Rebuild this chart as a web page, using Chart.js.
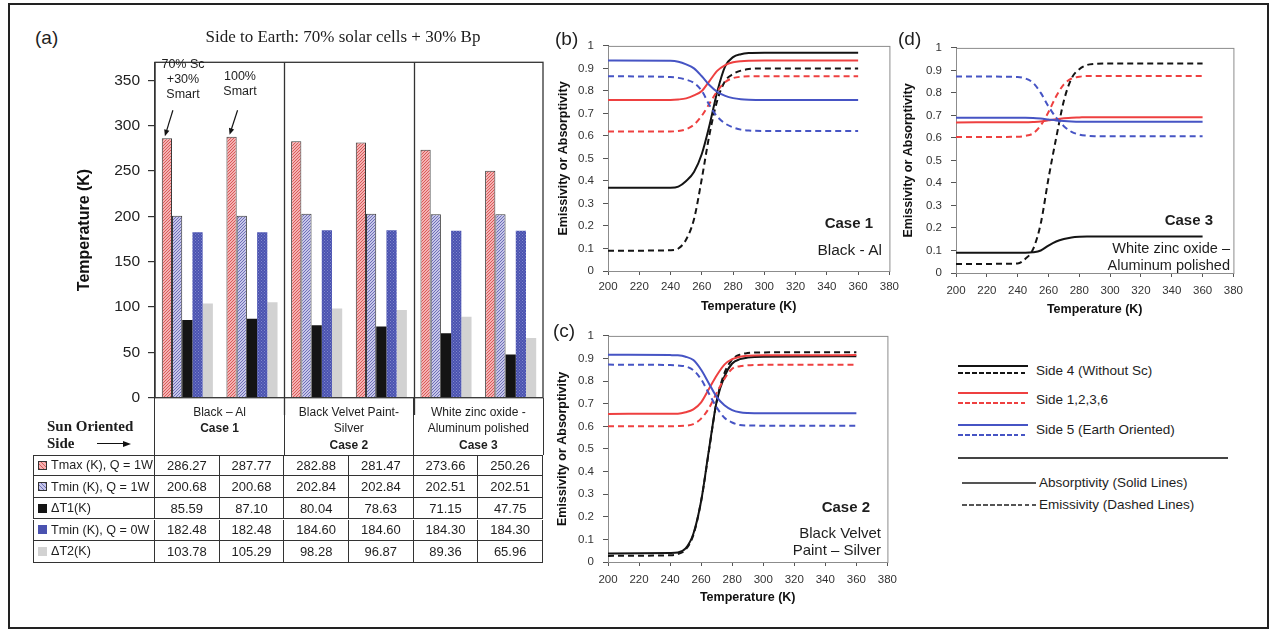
<!DOCTYPE html>
<html>
<head>
<meta charset="utf-8">
<title>Side temperatures and emissivity / absorptivity</title>
<script src="https://cdn.jsdelivr.net/npm/chart.js@4.4.1/dist/chart.umd.min.js"></script>
<style>
  html, body { margin: 0; padding: 0; background: #fff; }
  #fig { position: relative; width: 1270px; height: 630px; overflow: hidden;
         font-family: "Liberation Sans", Arial, sans-serif; color: #1e1e1e; }
  #fig canvas { position: absolute; }
  .frame { position: absolute; left: 8px; top: 3px; width: 1261px; height: 626px;
           border: 2px solid #222; box-sizing: border-box; }
  .t { position: absolute; white-space: nowrap; line-height: 1; }
  .serif { font-family: "Liberation Serif", "DejaVu Serif", serif; }
  .cell { position: absolute; box-sizing: border-box; border: 0 solid #333;
          display: flex; align-items: center; justify-content: center; font-size: 13px; }
  .head { flex-direction: column; justify-content: flex-start; padding-top: 6px;
          font-size: 12px; line-height: 16.5px; text-align: center; }
  .rowlab { justify-content: flex-start; padding-left: 4px; font-size: 12.6px; }
  .sw { display: inline-block; width: 9px; height: 9px; margin-right: 4px; box-sizing: border-box; }
  .lg-line { position: absolute; height: 0; }
</style>
</head>
<body>
<div id="fig">
  <div class="frame"></div>
  <canvas id="chartA" width="490" height="370" style="left:60px;top:45px"></canvas>
  <canvas id="chartB" width="364" height="290" style="left:540px;top:30px"></canvas>
  <canvas id="chartC" width="364" height="290" style="left:540px;top:320px"></canvas>
  <canvas id="chartD" width="362" height="290" style="left:888px;top:32px"></canvas>
</div>
<script>
// ── Panel (a): side temperatures (K) for each sun-oriented coating ──
const CONFIGS   = ['Case 1 / 70% Sc +30% Smart', 'Case 1 / 100% Smart',
                   'Case 2 / 70% Sc +30% Smart', 'Case 2 / 100% Smart',
                   'Case 3 / 70% Sc +30% Smart', 'Case 3 / 100% Smart'];
const TMAX_1W   = [286.27, 287.77, 282.88, 281.47, 273.66, 250.26];
const TMIN_1W   = [200.68, 200.68, 202.84, 202.84, 202.51, 202.51];
const DT1       = [85.59, 87.10, 80.04, 78.63, 71.15, 47.75];
const TMIN_0W   = [182.48, 182.48, 184.60, 184.60, 184.30, 184.30];
const DT2       = [103.78, 105.29, 98.28, 96.87, 89.36, 65.96];
const BAR_NAMES = ['Tmax (K), Q = 1W', 'Tmin (K), Q = 1W', 'ΔT1(K)', 'Tmin (K), Q = 0W', 'ΔT2(K)'];
const CASE_NAMES = [['Black – Al'], ['Black Velvet Paint-', 'Silver'], ['White zinc oxide -', 'Aluminum polished']];
const CASE_TAGS  = ['Case 1', 'Case 2', 'Case 3'];
const TEMP_TICKS_A = [0, 50, 100, 150, 200, 250, 300, 350];

// ── Panels (b)-(d): emissivity (dashed) / absorptivity (solid) vs temperature ──
const TEMPS = [200, 240, 245, 250, 255, 260, 265, 270, 275, 280, 285, 290, 300, 360];
const T_TICKS = [200, 220, 240, 260, 280, 300, 320, 340, 360, 380];
const E_TICKS = [0, 0.1, 0.2, 0.3, 0.4, 0.5, 0.6, 0.7, 0.8, 0.9, 1];

// Case 1: Black - Al
const B_ABS_S4   = [0.37, 0.37, 0.375, 0.40, 0.44, 0.52, 0.65, 0.80, 0.91, 0.95, 0.963, 0.968, 0.97, 0.97];
const B_EMI_S4   = [0.09, 0.092, 0.10, 0.14, 0.23, 0.41, 0.61, 0.76, 0.845, 0.875, 0.89, 0.897, 0.90, 0.90];
const B_ABS_S126 = [0.76, 0.76, 0.762, 0.767, 0.78, 0.80, 0.845, 0.89, 0.915, 0.927, 0.932, 0.934, 0.935, 0.935];
const B_EMI_S126 = [0.62, 0.62, 0.622, 0.63, 0.65, 0.69, 0.745, 0.80, 0.84, 0.857, 0.863, 0.865, 0.865, 0.865];
const B_ABS_S5   = [0.935, 0.934, 0.93, 0.918, 0.90, 0.865, 0.825, 0.795, 0.778, 0.768, 0.763, 0.761, 0.76, 0.76];
const B_EMI_S5   = [0.865, 0.862, 0.858, 0.85, 0.835, 0.80, 0.735, 0.685, 0.655, 0.638, 0.628, 0.624, 0.622, 0.622];

// Case 2: Black Velvet Paint - Silver
const C_ABS_S4   = [0.038, 0.04, 0.042, 0.06, 0.125, 0.27, 0.495, 0.71, 0.82, 0.878, 0.897, 0.904, 0.908, 0.91];
const C_EMI_S4   = [0.027, 0.03, 0.035, 0.055, 0.12, 0.27, 0.49, 0.71, 0.835, 0.895, 0.917, 0.924, 0.927, 0.928];
const C_ABS_S126 = [0.655, 0.656, 0.656, 0.662, 0.675, 0.706, 0.765, 0.825, 0.873, 0.897, 0.908, 0.912, 0.914, 0.915];
const C_EMI_S126 = [0.60, 0.60, 0.601, 0.603, 0.61, 0.634, 0.68, 0.748, 0.81, 0.855, 0.866, 0.87, 0.872, 0.872];
const C_ABS_S5   = [0.917, 0.915, 0.914, 0.908, 0.893, 0.85, 0.79, 0.73, 0.693, 0.672, 0.662, 0.659, 0.658, 0.658];
const C_EMI_S5   = [0.873, 0.871, 0.869, 0.865, 0.848, 0.808, 0.745, 0.684, 0.638, 0.617, 0.606, 0.604, 0.603, 0.603];

// Case 3: White zinc oxide - Aluminum polished
const D_ABS_S4   = [0.09, 0.09, 0.09, 0.092, 0.10, 0.122, 0.14, 0.151, 0.158, 0.161, 0.162, 0.162, 0.162, 0.162];
const D_EMI_S4   = [0.04, 0.042, 0.063, 0.106, 0.22, 0.42, 0.60, 0.765, 0.865, 0.905, 0.924, 0.929, 0.931, 0.931];
const D_ABS_S126 = [0.669, 0.67, 0.67, 0.671, 0.673, 0.678, 0.683, 0.687, 0.69, 0.691, 0.692, 0.692, 0.692, 0.692];
const D_EMI_S126 = [0.604, 0.605, 0.609, 0.62, 0.656, 0.715, 0.785, 0.838, 0.864, 0.872, 0.875, 0.875, 0.875, 0.875];
const D_ABS_S5   = [0.69, 0.69, 0.69, 0.689, 0.686, 0.682, 0.678, 0.675, 0.673, 0.672, 0.672, 0.672, 0.672, 0.672];
const D_EMI_S5   = [0.873, 0.871, 0.864, 0.845, 0.80, 0.74, 0.69, 0.652, 0.627, 0.615, 0.61, 0.608, 0.607, 0.607];

const SIDE_NAMES = ['Side 4 (Without Sc)', 'Side 1,2,3,6', 'Side 5 (Earth Oriented)'];

const COLORS = {
  black: '#141414',
  red:   '#ee4040',
  blue:  '#4654c4',
  pinkBg: '#f4b2b2', pinkLine: '#d95a5a',
  lavBg:  '#c6c6e8', lavLine:  '#6e6eb8',
  blueBg: '#4a52b0', blueDot:  '#8088cc',
  grey:  '#d2d2d2',
  axis:  '#333'
};
const SIDE_COLORS = [COLORS.black, COLORS.red, COLORS.blue];
const DASH = [6, 4];

const fig = document.getElementById('fig');

function addText(html, css, cls) {
  const d = document.createElement('div');
  d.className = 't' + (cls ? ' ' + cls : '');
  d.innerHTML = html;
  Object.assign(d.style, css);
  fig.appendChild(d);
  return d;
}

// hatched / dotted fills for the bars
function makeHatch(bg, fg, size) {
  const c = document.createElement('canvas');
  c.width = c.height = size;
  const g = c.getContext('2d');
  g.fillStyle = bg; g.fillRect(0, 0, size, size);
  g.strokeStyle = fg; g.lineWidth = 1;
  g.beginPath();
  g.moveTo(0, size); g.lineTo(size, 0);
  g.moveTo(-1, 1); g.lineTo(1, -1);
  g.moveTo(size - 1, size + 1); g.lineTo(size + 1, size - 1);
  g.stroke();
  return g.createPattern(c, 'repeat');
}
function makeDots(bg, fg) {
  const c = document.createElement('canvas');
  c.width = c.height = 3;
  const g = c.getContext('2d');
  g.fillStyle = bg; g.fillRect(0, 0, 3, 3);
  g.fillStyle = fg; g.fillRect(0, 0, 1, 1); g.fillRect(1.5, 1.5, 1, 1);
  return g.createPattern(c, 'repeat');
}

// ── Panel (a) ──
const caseFrame = {
  id: 'caseFrame',
  afterDatasetsDraw(chart) {
    const { ctx, chartArea: a, scales: { x } } = chart;
    ctx.save();
    ctx.strokeStyle = COLORS.axis;
    ctx.lineWidth = 1.3;
    ctx.strokeRect(a.left, a.top, a.right - a.left, a.bottom - a.top);
    for (let i = 2; i < CONFIGS.length; i += 2) {
      const px = Math.round((x.getPixelForValue(i - 1) + x.getPixelForValue(i)) / 2) + 0.5;
      ctx.beginPath(); ctx.moveTo(px, a.top); ctx.lineTo(px, chart.height); ctx.stroke();
    }
    // arrows from the two configuration notes to the first Tmax bars
    const meta = chart.getDatasetMeta(0);
    ctx.fillStyle = COLORS.black;
    ctx.strokeStyle = COLORS.black;
    ctx.lineWidth = 1.2;
    [0, 1].forEach(i => {
      const bar = meta.data[i];
      const tx = bar.x - 2, ty = bar.y - 2;
      const sx = bar.x + 6, sy = a.top + 48;
      const ang = Math.atan2(ty - sy, tx - sx);
      ctx.beginPath(); ctx.moveTo(sx, sy); ctx.lineTo(tx - 4 * Math.cos(ang), ty - 4 * Math.sin(ang)); ctx.stroke();
      ctx.beginPath();
      ctx.moveTo(tx, ty);
      ctx.lineTo(tx - 7 * Math.cos(ang - 0.4), ty - 7 * Math.sin(ang - 0.4));
      ctx.lineTo(tx - 7 * Math.cos(ang + 0.4), ty - 7 * Math.sin(ang + 0.4));
      ctx.closePath(); ctx.fill();
    });
    ctx.restore();
  }
};

const pinkHatch = makeHatch(COLORS.pinkBg, COLORS.pinkLine, 3);
const lavHatch  = makeHatch(COLORS.lavBg, COLORS.lavLine, 3);
const blueDots  = makeDots(COLORS.blueBg, COLORS.blueDot);

const barChart = new Chart(document.getElementById('chartA'), {
  type: 'bar',
  data: {
    labels: CONFIGS,
    datasets: [
      { label: BAR_NAMES[0], data: TMAX_1W, backgroundColor: pinkHatch, borderColor: '#3a3a3a', borderWidth: 1 },
      { label: BAR_NAMES[1], data: TMIN_1W, backgroundColor: lavHatch, borderColor: '#3a3a3a', borderWidth: 1 },
      { label: BAR_NAMES[2], data: DT1, backgroundColor: COLORS.black, borderWidth: 0 },
      { label: BAR_NAMES[3], data: TMIN_0W, backgroundColor: blueDots, borderWidth: 0 },
      { label: BAR_NAMES[4], data: DT2, backgroundColor: COLORS.grey, borderWidth: 0 }
    ]
  },
  options: {
    responsive: false,
    animation: false,
    layout: { padding: { top: 10, right: 7, left: 0, bottom: 0 }, autoPadding: false },
    datasets: { bar: { categoryPercentage: 0.79, barPercentage: 1 } },
    plugins: { legend: { display: false }, tooltip: { enabled: false } },
    scales: {
      x: {
        ticks: { display: false },
        grid: { display: false },
        border: { display: false },
        afterFit(s) { s.height = 7; }
      },
      y: {
        min: 0, max: 370,
        afterBuildTicks(s) { s.ticks = TEMP_TICKS_A.map(v => ({ value: v })); },
        ticks: { font: { family: 'Liberation Sans', size: 15.5 }, color: '#222', padding: 8 },
        grid: { drawOnChartArea: false, tickLength: 7, color: COLORS.axis, lineWidth: 1.2 },
        border: { color: COLORS.axis, width: 1.3 },
        title: { display: true, text: 'Temperature (K)', color: '#111',
                 font: { family: 'Liberation Sans', size: 16, weight: 'bold' }, padding: { top: 15 } },
        afterFit(s) { s.width = 95; }
      }
    }
  },
  plugins: [caseFrame]
});

// title and notes of panel (a)
addText('(a)', { left: '35px', top: '28px', fontSize: '19px' });
addText('Side to Earth: 70% solar cells + 30% Bp', { left: '343px', top: '28px', fontSize: '17px', transform: 'translateX(-50%)' }, 'serif');
addText('70% Sc<br>+30%<br>Smart', { left: '183px', top: '57px', fontSize: '12.5px', lineHeight: '15px', textAlign: 'center', transform: 'translateX(-50%)' });
addText('100%<br>Smart', { left: '240px', top: '69px', fontSize: '12.5px', lineHeight: '15px', textAlign: 'center', transform: 'translateX(-50%)' });

// table under the bars, columns taken from the bar chart's category scale
function buildTable(chart) {
  const a = chart.chartArea;
  const ox = 60, oy = 45;
  const step = (a.right - a.left) / CONFIGS.length;
  const colLeft = i => ox + a.left + i * step;
  const headTop = oy + a.bottom;
  const tableTop = headTop + 57;
  const rowH = 21.6;
  const labLeft = 33;
  const B = '1.3px';

  function cell(left, top, w, h, cls, border) {
    const d = document.createElement('div');
    d.className = 'cell' + (cls ? ' ' + cls : '');
    Object.assign(d.style, { left: left + 'px', top: top + 'px', width: w + 'px', height: h + 'px' }, border);
    fig.appendChild(d);
    return d;
  }

  CASE_NAMES.forEach((name, c) => {
    const border = { borderLeftWidth: B };
    if (c === CASE_NAMES.length - 1) border.borderRightWidth = B;
    const d = cell(colLeft(2 * c) - 0.6, headTop, 2 * step + (c === CASE_NAMES.length - 1 ? 1.2 : 0), tableTop - headTop, 'head', border);
    d.innerHTML = name.join('<br>') + '<br><b>' + CASE_TAGS[c] + '</b>';
  });

  // "Sun Oriented Side ->"
  addText('Sun Oriented', { left: '47px', top: '419px', fontSize: '15px', fontWeight: 'bold' }, 'serif');
  addText('Side', { left: '47px', top: '436px', fontSize: '15px', fontWeight: 'bold' }, 'serif');
  const arr = document.createElement('div');
  Object.assign(arr.style, { position: 'absolute', left: '97px', top: '443px', width: '27px', borderTop: '1.4px solid #111' });
  fig.appendChild(arr);
  const head = document.createElement('div');
  Object.assign(head.style, { position: 'absolute', left: '123px', top: '440.5px', width: 0, height: 0,
    borderTop: '3.5px solid transparent', borderBottom: '3.5px solid transparent', borderLeft: '8px solid #111' });
  fig.appendChild(head);

  const rows = [TMAX_1W, TMIN_1W, DT1, TMIN_0W, DT2];
  const swatches = [
    `background:repeating-linear-gradient(45deg, ${COLORS.pinkLine} 0 1px, ${COLORS.pinkBg} 1px 3px);border:1px solid #333`,
    `background:repeating-linear-gradient(45deg, ${COLORS.lavLine} 0 1px, ${COLORS.lavBg} 1px 3px);border:1px solid #333`,
    `background:${COLORS.black}`,
    `background:${COLORS.blueBg}`,
    `background:${COLORS.grey}`
  ];
  rows.forEach((vals, r) => {
    const top = tableTop + r * rowH;
    const tb = r === 0 ? { borderTopWidth: B } : {};
    const lab = cell(labLeft, top, colLeft(0) - labLeft, rowH, 'rowlab',
      Object.assign({ borderLeftWidth: B, borderRightWidth: B, borderBottomWidth: B }, tb));
    lab.innerHTML = `<span class="sw" style="${swatches[r]}"></span>${BAR_NAMES[r]}`;
    vals.forEach((v, i) => {
      const d = cell(colLeft(i), top, step, rowH, '',
        Object.assign({ borderRightWidth: B, borderBottomWidth: B }, tb));
      d.textContent = v.toFixed(2);
    });
  });
}
buildTable(barChart);

// ── Panels (b)-(d) ──
const plotFrame = {
  id: 'plotFrame',
  beforeDatasetsDraw(chart) {
    const { ctx, chartArea: a } = chart;
    ctx.save();
    ctx.strokeStyle = '#8c8c8c';
    ctx.lineWidth = 1;
    ctx.strokeRect(a.left + 0.5, a.top + 0.5, a.right - a.left, a.bottom - a.top);
    ctx.restore();
  }
};

function series(values, color, dashed) {
  return {
    data: TEMPS.map((t, i) => ({ x: t, y: values[i] })),
    borderColor: color,
    borderWidth: 2,
    borderDash: dashed ? DASH : [],
    pointRadius: 0,
    fill: false,
    cubicInterpolationMode: 'monotone'
  };
}

function emissivityChart(id, sets, lay) {
  const tickFont = { family: 'Liberation Sans', size: 11.5 };
  const titleFont = { family: 'Liberation Sans', size: 12.5, weight: 'bold' };
  return new Chart(document.getElementById(id), {
    type: 'line',
    data: {
      datasets: [
        series(sets[0], COLORS.blue, true), series(sets[1], COLORS.blue, false),
        series(sets[2], COLORS.red, true), series(sets[3], COLORS.red, false),
        series(sets[4], COLORS.black, true), series(sets[5], COLORS.black, false)
      ]
    },
    options: {
      responsive: false,
      animation: false,
      layout: { padding: { top: 10, right: lay.right, left: 0, bottom: 0 }, autoPadding: false },
      plugins: { legend: { display: false }, tooltip: { enabled: false } },
      scales: {
        x: {
          type: 'linear', min: 200, max: 380,
          afterBuildTicks(s) { s.ticks = T_TICKS.map(v => ({ value: v })); },
          ticks: { font: tickFont, color: '#333', padding: lay.xPad, autoSkip: false, maxRotation: 0 },
          grid: { drawOnChartArea: false, tickLength: 4, color: '#555' },
          border: { color: '#555' },
          title: { display: true, text: 'Temperature (K)', color: '#111', font: titleFont, padding: { top: 0, bottom: lay.xTitle } },
          afterFit(s) { s.height = lay.xH; }
        },
        y: {
          min: 0, max: 1,
          afterBuildTicks(s) { s.ticks = E_TICKS.map(v => ({ value: v })); },
          ticks: { font: tickFont, color: '#333', padding: 9, callback: v => String(v) },
          grid: { drawOnChartArea: false, tickLength: 5, color: '#555' },
          border: { color: '#555' },
          title: { display: true, text: 'Emissivity or Absorptivity', color: '#111', font: titleFont, padding: { top: lay.yTitle } },
          afterFit(s) { s.width = 68; }
        }
      }
    },
    plugins: [plotFrame]
  });
}

emissivityChart('chartB', [B_EMI_S5, B_ABS_S5, B_EMI_S126, B_ABS_S126, B_EMI_S4, B_ABS_S4],
  { right: 10, xH: 49, xPad: 5, xTitle: 5.5, yTitle: 16.5 });
emissivityChart('chartC', [C_EMI_S5, C_ABS_S5, C_EMI_S126, C_ABS_S126, C_EMI_S4, C_ABS_S4],
  { right: 10, xH: 48, xPad: 7, xTitle: 4.5, yTitle: 15 });
emissivityChart('chartD', [D_EMI_S5, D_ABS_S5, D_EMI_S126, D_ABS_S126, D_EMI_S4, D_ABS_S4],
  { right: 9, xH: 49, xPad: 7, xTitle: 4.5, yTitle: 13.5 });

addText('(b)', { left: '555px', top: '29px', fontSize: '19px' });
addText('(c)', { left: '553px', top: '321px', fontSize: '19px' });
addText('(d)', { left: '898px', top: '29px', fontSize: '19px' });

addText('Case 1', { right: '397px', top: '215px', fontSize: '15px', fontWeight: 'bold' });
addText('Black - Al', { right: '388px', top: '242px', fontSize: '15.5px' });
addText('Case 2', { right: '400px', top: '499px', fontSize: '15px', fontWeight: 'bold' });
addText('Black Velvet<br>Paint – Silver', { right: '389px', top: '524px', fontSize: '15px', lineHeight: '17px', textAlign: 'right' });
addText('Case 3', { right: '57px', top: '212px', fontSize: '15px', fontWeight: 'bold' });
addText('White zinc oxide –<br>Aluminum polished', { right: '40px', top: '240px', fontSize: '14.5px', lineHeight: '17px', textAlign: 'right' });

// ── Shared legend ──
function legendLine(x, y, w, color, dashed, thick) {
  const d = document.createElement('div');
  d.className = 'lg-line';
  const h = thick || 1.6;
  Object.assign(d.style, { left: x + 'px', top: (y - h / 2) + 'px', width: w + 'px', height: h + 'px',
    background: dashed ? `repeating-linear-gradient(90deg, ${color} 0 4.5px, transparent 4.5px 7px)` : color });
  fig.appendChild(d);
}
const LEG_ROWS = [{ s: 366, d: 373, t: 371 }, { s: 393, d: 403, t: 400 }, { s: 425, d: 435, t: 430 }];
SIDE_NAMES.forEach((name, i) => {
  const r = LEG_ROWS[i];
  legendLine(958, r.s, 70, SIDE_COLORS[i], false);
  legendLine(958, r.d, 70, SIDE_COLORS[i], true);
  addText(name, { left: '1036px', top: (r.t - 7) + 'px', fontSize: '13.5px' });
});
legendLine(958, 458, 270, '#444', false, 2);
legendLine(962, 483, 74, '#555', false, 1.5);
legendLine(962, 505, 74, '#555', true, 1.5);
addText('Absorptivity (Solid Lines)', { left: '1039px', top: '476px', fontSize: '13.5px' });
addText('Emissivity (Dashed Lines)', { left: '1039px', top: '498px', fontSize: '13.5px' });
</script>
</body>
</html>
